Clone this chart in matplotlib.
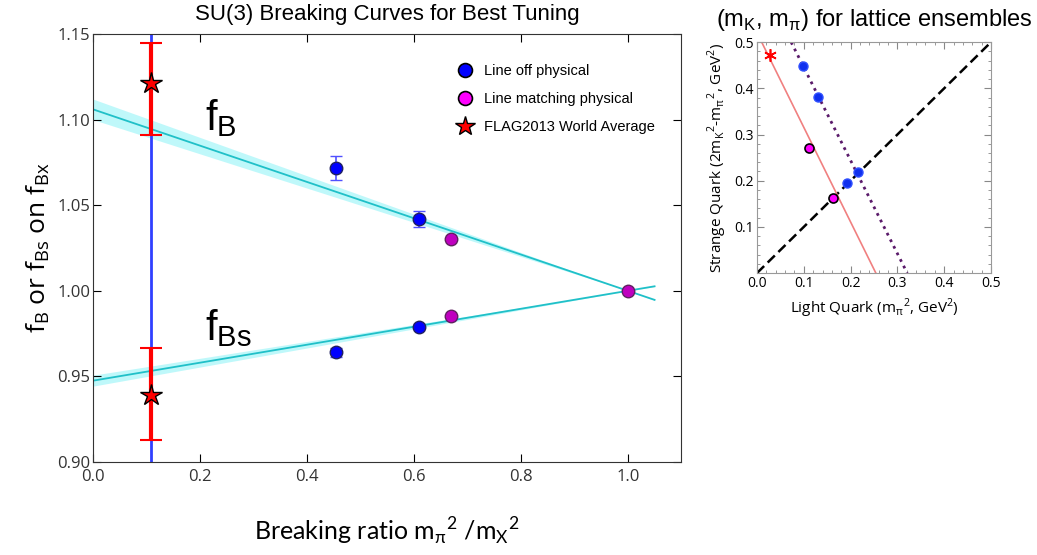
import numpy as np
import matplotlib
matplotlib.use("Agg")
import matplotlib.pyplot as plt
from matplotlib.lines import Line2D

# ---- left panel data ----
phys_x = 0.109                       # physical breaking ratio
off_x = [0.455, 0.61, 0.455, 0.61]   # line off physical
off_y = [1.072, 1.042, 0.964, 0.979]
off_err = [0.007, 0.0045, 0.0025, 0.0015]
match_x = [0.67, 0.67, 1.0]          # line matching physical
match_y = [1.030, 0.985, 1.000]
flag_y = [1.1216, 0.939]             # FLAG2013 world average
flag_lo = [0.0306, 0.026]
flag_hi = [0.0234, 0.0277]

fit_x = np.linspace(0.0, 1.05, 50)
fB_slope = -0.106
fBs_slope = 0.0525
fB_band = 0.006
fBs_band = 0.0032

# ---- right panel data ----
blue_mpi = [0.098, 0.130, 0.193, 0.216]
blue_ms = [0.448, 0.382, 0.194, 0.218]
mag_mpi = [0.112, 0.163]
mag_ms = [0.270, 0.162]
phys_mpi, phys_ms = 0.027, 0.472
pink_x = [0.01, 0.254]
pink_y = [0.5, 0.0]
purple_x = [0.073, 0.321]
purple_y = [0.5, 0.0]

fig = plt.figure(figsize=(10.37, 5.55), dpi=100)

# ================= left panel =================
ax = fig.add_axes([0.0897, 0.1676, 0.5673, 0.7711])
fB = 1 + fB_slope * (fit_x - 1)
fBs = 1 + fBs_slope * (fit_x - 1)
ax.fill_between(fit_x, fB - fB_band * (1 - fit_x), fB + fB_band * (1 - fit_x),
                color='#00e5ee', alpha=0.25, lw=0)
ax.fill_between(fit_x, fBs - fBs_band * (1 - fit_x), fBs + fBs_band * (1 - fit_x),
                color='#00e5ee', alpha=0.25, lw=0)
ax.plot(fit_x, fB, color='#20c0c8', lw=1.3)
ax.plot(fit_x, fBs, color='#20c0c8', lw=1.3)

ax.axvline(phys_x, color='#3040ff', lw=2)
ax.errorbar([phys_x, phys_x], flag_y, yerr=[flag_lo, flag_hi], fmt='none',
            ecolor='red', elinewidth=3, capsize=8, capthick=1.5, zorder=4)
ax.plot([phys_x, phys_x], flag_y, '*', color='red', mec='black', mew=1,
        ms=16, zorder=5)

ax.errorbar(off_x, off_y, yerr=off_err, fmt='o', color='blue', mec='#202060',
            ms=9, ecolor='#5050ff', elinewidth=1.2, capsize=4, zorder=5)
ax.plot(match_x, match_y, 'o', color='#bf00bf', mec='#602060', ms=9, zorder=5)

ax.text(0.21, 1.094, r'f$_\mathregular{B}$', fontsize=30, family='Liberation Sans')
ax.text(0.21, 0.971, r'f$_\mathregular{Bs}$', fontsize=30, family='Liberation Sans')

ax.set_xlim(0, 1.1)
ax.set_ylim(0.90, 1.15)
ax.set_xticks([0.0, 0.2, 0.4, 0.6, 0.8, 1.0])
ax.set_yticks([0.90, 0.95, 1.00, 1.05, 1.10, 1.15])
ax.set_xticklabels(['0.0', '0.2', '0.4', '0.6', '0.8', '1.0'])
ax.set_yticklabels(['0.90', '0.95', '1.00', '1.05', '1.10', '1.15'])
ax.tick_params(direction='in', top=True, right=True, length=6, labelsize=12,
               labelcolor='#333333')
ax.tick_params(axis='y', pad=2)
ax.tick_params(axis='x', pad=5)
for lab in ax.get_xticklabels() + ax.get_yticklabels():
    lab.set_family('Open Sans')
for s in ax.spines.values():
    s.set_color('#333333')
ax.set_title('SU(3) Breaking Curves for Best Tuning', fontsize=16,
             family='Liberation Sans', pad=10)
ax.set_xlabel(r'Breaking ratio m$_\mathregular{\pi}$$^\mathregular{2}$ /m$_\mathregular{X}$$^\mathregular{2}$',
              fontsize=18, family='Lato', labelpad=22)
ax.set_ylabel(r'f$_\mathregular{B}$ or f$_\mathregular{Bs}$ on f$_\mathregular{Bx}$',
              fontsize=19, family='Open Sans', labelpad=4)

handles = [
    Line2D([], [], ls='none', marker='o', color='blue', mec='black', mew=1.2, ms=10),
    Line2D([], [], ls='none', marker='o', color='#ff00ff', mec='black', mew=1.2, ms=10),
    Line2D([], [], ls='none', marker='*', color='red', mec='black', mew=1, ms=15),
]
ax.legend(handles, ['Line off physical', 'Line matching physical',
                    'FLAG2013 World Average'],
          loc='upper left', bbox_to_anchor=(0.585, 0.96), frameon=False,
          prop={'family': 'Liberation Sans', 'size': 10.5}, handletextpad=0.3,
          labelspacing=0.95, numpoints=1)

# ================= right panel =================
ax2 = fig.add_axes([0.730, 0.508, 0.2256, 0.416])
ax2.plot([0, 0.5], [0, 0.5], '--', color='black', lw=1.8, dashes=(4, 2))
ax2.plot(pink_x, pink_y, color='#f08080', lw=1.2)
ax2.plot(purple_x, purple_y, ':', color='#5a1a6a', lw=2)
ax2.plot(blue_mpi, blue_ms, 'o', color='#1030ee', mec='#3050ff', ms=6.5, zorder=5)
ax2.plot(mag_mpi, mag_ms, 'o', color='#ff00ff', mec='black', mew=1.2, ms=6.5, zorder=5)
ax2.plot(phys_mpi, phys_ms, marker=(6, 2, 0), color='red', ms=9, mew=1.2, ls='none')

ax2.set_xlim(0, 0.5)
ax2.set_ylim(0, 0.5)
ax2.set_xticks([0.0, 0.1, 0.2, 0.3, 0.4, 0.5])
ax2.set_xticklabels(['0.0', '0.1', '0.2', '0.3', '0.4', '0.5'])
ax2.set_yticks([0.1, 0.2, 0.3, 0.4, 0.5])
ax2.set_yticklabels(['0.1', '0.2', '0.3', '0.4', '0.5'])
ax2.set_xticks(np.arange(0, 0.501, 0.02), minor=True)
ax2.set_yticks(np.arange(0, 0.501, 0.02), minor=True)
ax2.tick_params(which='both', direction='in', top=True, right=True,
                color='#888888', labelsize=10, pad=2)
ax2.tick_params(which='major', length=5)
ax2.tick_params(which='minor', length=2.5)
for lab in ax2.get_xticklabels() + ax2.get_yticklabels():
    lab.set_family('Open Sans')
for s in ax2.spines.values():
    s.set_color('#999999')
ax2.set_title(r'(m$_\mathregular{K}$, m$_\mathregular{\pi}$) for lattice ensembles',
              fontsize=17, family='Liberation Sans', pad=12)
ax2.set_xlabel(r'Light Quark (m$_\mathregular{\pi}$$^\mathregular{2}$, GeV$^\mathregular{2}$)',
               fontsize=11, family='Open Sans', labelpad=4)
ax2.set_ylabel(r'Strange Quark (2m$_\mathregular{K}$$^\mathregular{2}$-m$_\mathregular{\pi}$$^\mathregular{2}$, GeV$^\mathregular{2}$)',
               fontsize=11, family='Open Sans', labelpad=4)

fig.savefig('out.png', dpi=100)
